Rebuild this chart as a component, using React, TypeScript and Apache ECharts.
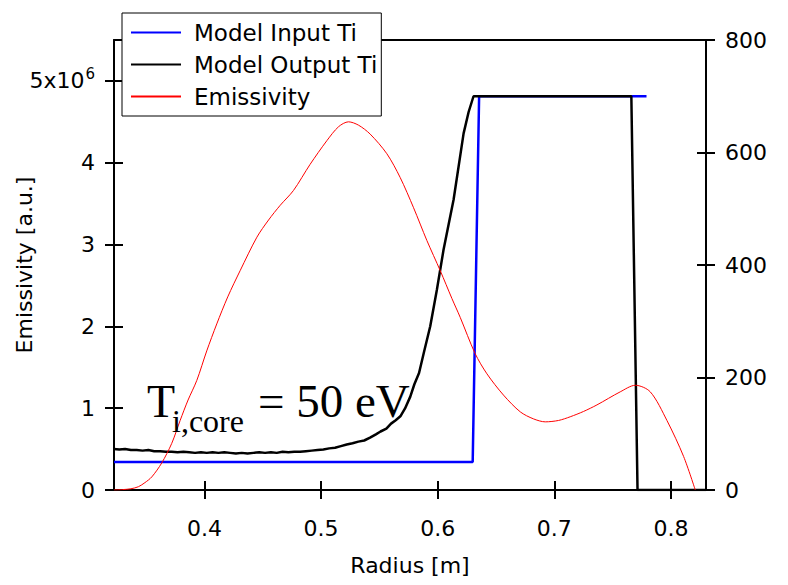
import React, { useEffect, useRef } from "react";
import * as echarts from "echarts";

// Radius [m]
const xTicks = [0.4, 0.5, 0.6, 0.7, 0.8];
const leftTicks = [0, 1, 2, 3, 4, 5]; // x10^6
const rightTicks = [0, 200, 400, 600, 800];

// Model Input Ti (right axis, eV)
const inputTi: [number, number][] = [
  [0.3225, 50], [0.630, 50], [0.6355, 700], [0.779, 700],
];

// Model Output Ti (right axis, eV)
const outputTi: [number, number][] = [
  [0.3225, 73], [0.327, 72], [0.332, 73], [0.337, 71], [0.342, 71], [0.347, 70],
  [0.352, 71], [0.357, 69], [0.362, 69], [0.367, 68], [0.372, 68], [0.377, 67],
  [0.382, 68], [0.387, 67], [0.392, 66], [0.397, 67], [0.402, 66], [0.407, 67],
  [0.412, 66], [0.417, 67], [0.422, 66], [0.427, 65], [0.432, 66], [0.437, 65],
  [0.442, 66], [0.447, 67], [0.452, 66], [0.457, 67], [0.462, 66], [0.467, 68],
  [0.472, 67], [0.477, 68], [0.482, 68], [0.487, 69], [0.492, 70], [0.497, 71],
  [0.502, 72], [0.507, 74], [0.512, 75], [0.517, 78], [0.522, 81], [0.527, 83],
  [0.532, 86], [0.537, 88], [0.542, 93], [0.547, 99], [0.551, 104], [0.556, 109],
  [0.560, 118], [0.564, 124], [0.568, 131], [0.572, 145], [0.5765, 166], [0.580, 188],
  [0.584, 208], [0.588, 243], [0.5936, 291], [0.5993, 356], [0.605, 427], [0.6136, 516],
  [0.6222, 634], [0.6265, 672], [0.6307, 700], [0.766, 700], [0.7713, 0], [0.83, 0],
];

// Emissivity (left axis, x10^6 a.u.)
const emissivity: [number, number][] = [
  [0.3225, 0], [0.330, 0.005], [0.337, 0.015], [0.3434, 0.04], [0.349, 0.09],
  [0.3549, 0.16], [0.3634, 0.33], [0.372, 0.57], [0.3792, 0.85], [0.386, 1.10],
  [0.3935, 1.34], [0.402, 1.70], [0.4106, 2.03], [0.420, 2.36], [0.4306, 2.68],
  [0.445, 3.09], [0.455, 3.30], [0.465, 3.48], [0.4763, 3.66], [0.4906, 3.98],
  [0.505, 4.27], [0.515, 4.44], [0.5235, 4.50], [0.532, 4.46], [0.5421, 4.35],
  [0.5564, 4.11], [0.5678, 3.82], [0.5793, 3.45], [0.5907, 3.05], [0.6022, 2.68],
  [0.6122, 2.34], [0.6193, 2.11], [0.632, 1.67], [0.6422, 1.42], [0.6564, 1.16],
  [0.6708, 0.955], [0.682, 0.87], [0.6922, 0.833], [0.7036, 0.85], [0.7136, 0.895],
  [0.725, 0.96], [0.7365, 1.04], [0.7565, 1.20], [0.7694, 1.28], [0.7822, 1.20],
  [0.7965, 0.85], [0.8108, 0.41], [0.8208, 0],
];

const FONT = "DejaVu Sans";
const SERIF = "Liberation Serif";

export default function App() {
  const ref = useRef<HTMLDivElement>(null);
  useEffect(() => {
    document.body.style.margin = "0";
    const chart = echarts.init(ref.current!, null, { renderer: "svg" });
    const lineAxis = { show: true, onZero: false, lineStyle: { color: "#000", width: 2 } };
    const tickStyle = { color: "#000", width: 2 };
    const option: any = {
      animation: false,
      backgroundColor: "#fff",
      grid: { left: 114, right: 82, top: 40, bottom: 95, containLabel: false, outerBoundsMode: "none" },
      legend: {
        orient: "vertical",
        left: 122,
        top: 13,
        backgroundColor: "#fff",
        borderColor: "#000",
        borderWidth: 1,
        padding: [8, 4, 8, 8],
        itemWidth: 50,
        itemHeight: 22,
        itemGap: 9,
        itemStyle: { opacity: 0 },
        textStyle: { fontFamily: FONT, fontSize: 23, color: "#000", padding: [0, 0, 0, 8] },
        data: ["Model Input Ti", "Model Output Ti", "Emissivity"],
      },
      xAxis: [
        {
          type: "value", min: 0.3225, max: 0.83, position: "bottom",
          name: "Radius [m]", nameLocation: "middle", nameGap: 64, nameMoveOverlap: false,
          nameTextStyle: { fontFamily: FONT, fontSize: 22, color: "#000" },
          axisLine: lineAxis,
          axisTick: { show: true, inside: false, length: 9, lineStyle: tickStyle, customValues: xTicks },
          axisLabel: { customValues: xTicks, margin: 27, fontFamily: FONT, fontSize: 22, color: "#000",
            formatter: (v: number) => v.toFixed(1) },
          splitLine: { show: false },
        },
        {
          type: "value", min: 0.3225, max: 0.83, position: "top",
          axisLine: lineAxis, axisTick: { show: false }, axisLabel: { show: false }, splitLine: { show: false },
        },
        {
          type: "value", min: 0.3225, max: 0.83, position: "bottom",
          axisLine: { show: false },
          axisTick: { show: true, inside: true, length: 9, lineStyle: tickStyle, customValues: xTicks },
          axisLabel: { show: false }, splitLine: { show: false },
        },
      ],
      yAxis: [
        {
          type: "value", min: 0, max: 5.5, position: "left",
          name: "Emissivity [a.u.]", nameLocation: "middle", nameGap: 79, nameRotate: 90, nameMoveOverlap: false,
          nameTextStyle: { fontFamily: FONT, fontSize: 22, color: "#000" },
          axisLine: lineAxis,
          axisTick: { show: true, inside: false, length: 9, lineStyle: tickStyle, customValues: leftTicks },
          axisLabel: {
            customValues: leftTicks, margin: 19, fontFamily: FONT, fontSize: 22, color: "#000",
            formatter: (v: number) => (v === 5 ? "{b|5x10}{s|6}" : String(v)),
            rich: {
              b: { fontFamily: FONT, fontSize: 22, color: "#000" },
              s: { fontFamily: FONT, fontSize: 15, color: "#000", verticalAlign: "bottom", padding: [0, 0, 14, 1] },
            },
          },
          splitLine: { show: false },
        },
        {
          type: "value", min: 0, max: 800, position: "right",
          axisLine: lineAxis,
          axisTick: { show: true, inside: false, length: 9, lineStyle: tickStyle, customValues: rightTicks },
          axisLabel: { customValues: rightTicks, margin: 19, fontFamily: FONT, fontSize: 22, color: "#000" },
          splitLine: { show: false },
        },
        {
          type: "value", min: 0, max: 5.5, position: "left",
          axisLine: { show: false },
          axisTick: { show: true, inside: true, length: 9, lineStyle: tickStyle, customValues: leftTicks },
          axisLabel: { show: false }, splitLine: { show: false },
        },
        {
          type: "value", min: 0, max: 800, position: "right",
          axisLine: { show: false },
          axisTick: { show: true, inside: true, length: 9, lineStyle: tickStyle, customValues: rightTicks },
          axisLabel: { show: false }, splitLine: { show: false },
        },
      ],
      series: [
        {
          name: "Model Input Ti", type: "line", xAxisIndex: 0, yAxisIndex: 1,
          data: inputTi, symbol: "none", lineStyle: { color: "#0000ff", width: 2.5 }, itemStyle: { color: "#0000ff" },
        },
        {
          name: "Model Output Ti", type: "line", xAxisIndex: 0, yAxisIndex: 1,
          data: outputTi, symbol: "none", lineStyle: { color: "#000", width: 2.5 }, itemStyle: { color: "#000" },
        },
        {
          name: "Emissivity", type: "line", xAxisIndex: 0, yAxisIndex: 0,
          data: emissivity, symbol: "none", smooth: 0.3,
          lineStyle: { color: "#ff0000", width: 1 }, itemStyle: { color: "#ff0000" },
        },
      ],
      graphic: [
        { type: "text", left: 147, top: 378, z: 100,
          style: { text: "T", fontFamily: SERIF, fontSize: 46, fill: "#000" } },
        { type: "text", left: 172, top: 405, z: 100,
          style: { text: "i,core", fontFamily: SERIF, fontSize: 32, fill: "#000" } },
        { type: "text", left: 258, top: 377, z: 100,
          style: { text: "= 50 eV", fontFamily: SERIF, fontSize: 47, fill: "#000" } },
      ],
    };
    chart.setOption(option);
    return () => chart.dispose();
  }, []);
  return <div ref={ref} style={{ width: 788, height: 585 }} />;
}
